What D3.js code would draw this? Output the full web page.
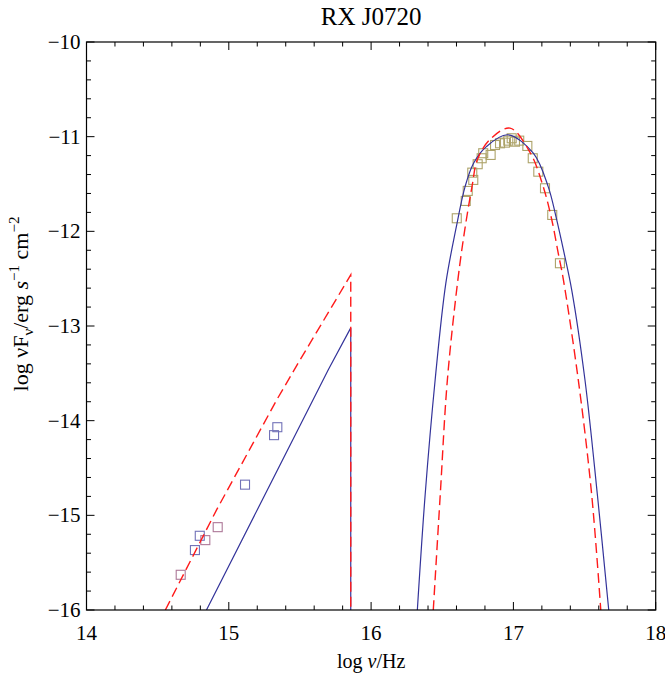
<!DOCTYPE html>
<html>
<head>
<meta charset="utf-8">
<script src="https://cdn.jsdelivr.net/npm/d3@7"></script>
<style>
  body { margin: 0; background: #fff; }
  svg { display: block; }
  text { font-family: "Liberation Serif", "DejaVu Serif", serif; fill: #000; }
</style>
</head>
<body>
<svg id="chart" width="665" height="682"></svg>
<script>
// ---- Data (log nu [Hz], log nuFnu [erg s^-1 cm^-2]) ----
const xTicks = [14, 15, 16, 17, 18];
const yTicks = [-10, -11, -12, -13, -14, -15, -16];

// Model 1 (solid blue): optical/UV power-law part
const blueLowX = [14.843, 15.70, 15.857, 15.857];
const blueLowY = [-16, -13.46, -13.02, -16];
// Model 1 (solid blue): X-ray bump
const blueBumpX = [16.325, 16.38, 16.45, 16.525, 16.597, 16.66, 16.72, 16.81, 16.96, 17.14, 17.245, 17.30, 17.355, 17.41, 17.503, 17.59, 17.67];
const blueBumpY = [-16, -14.78, -13.57, -12.55, -11.967, -11.53, -11.28, -11.105, -10.98, -11.175, -11.53, -11.85, -12.22, -12.62, -13.57, -14.78, -16];

// Model 2 (dashed red): optical/UV part
const redLowX = [14.554, 14.915, 15.337, 15.50, 15.857, 15.857];
const redLowY = [-16, -14.94, -13.78, -13.36, -12.46, -16];
// Model 2 (dashed red): X-ray bump
const redBumpX = [16.437, 16.486, 16.536, 16.61, 16.66, 16.71, 16.746, 16.835, 16.976, 17.12, 17.21, 17.27, 17.315, 17.35, 17.456, 17.55, 17.614];
const redBumpY = [-16, -14.78, -13.57, -12.51, -11.967, -11.52, -11.246, -11.03, -10.91, -11.175, -11.53, -11.88, -12.23, -12.5, -13.57, -14.78, -16];

// Observed data: optical/UV (blue squares)
const optBlueX = [15.341, 15.318, 15.114, 14.796, 14.762];
const optBlueY = [-14.069, -14.153, -14.676, -15.216, -15.367];
// Observed data: optical (pink squares)
const optPinkX = [14.922, 14.835, 14.662];
const optPinkY = [-15.125, -15.262, -15.628];
// Observed data: X-ray (olive squares)
const xrayX = [16.602, 16.665, 16.679, 16.718, 16.711, 16.749, 16.777, 16.788, 16.840, 16.871, 16.906, 16.941, 16.964, 16.988, 17.011, 17.041, 17.098, 17.136, 17.175, 17.222, 17.273, 17.327];
const xrayY = [-11.862, -11.679, -11.573, -11.457, -11.380, -11.291, -11.228, -11.175, -11.193, -11.088, -11.070, -11.063, -11.042, -11.017, -11.053, -11.042, -11.098, -11.228, -11.370, -11.545, -11.827, -12.337];

// ---- Layout ----
const svg = d3.select("#chart");
const L = 86.5, R = 655.7, T = 42, B = 610;
const x = d3.scaleLinear().domain([14, 18]).range([L, R]);
const y = d3.scaleLinear().domain([-16, -10]).range([B, T]);

const zip = (xs, ys) => xs.map((v, i) => [v, ys[i]]);

svg.append("defs").append("clipPath").attr("id", "clip")
  .append("rect").attr("x", L).attr("y", T).attr("width", R - L).attr("height", B - T);

const plot = svg.append("g").attr("clip-path", "url(#clip)");

// squares
function squares(xs, ys, color) {
  plot.append("g").selectAll("rect").data(zip(xs, ys)).join("rect")
    .attr("x", d => x(d[0]) - 4.5).attr("y", d => y(d[1]) - 4.5)
    .attr("width", 9).attr("height", 9)
    .attr("fill", "none").attr("stroke", color).attr("stroke-width", 1.1);
}
squares(xrayX, xrayY, "#ada36a");
squares(optBlueX, optBlueY, "#7272b8");
squares(optPinkX, optPinkY, "#ad7898");

const straight = d3.line().x(d => x(d[0])).y(d => y(d[1]));
const smooth = d3.line().x(d => x(d[0])).y(d => y(d[1])).curve(d3.curveCatmullRom.alpha(0.5));

const blue = "#33339a", red = "#ff1a1a";
plot.append("path").attr("d", straight(zip(blueLowX, blueLowY)))
  .attr("fill", "none").attr("stroke", blue).attr("stroke-width", 1.2);
plot.append("path").attr("d", smooth(zip(blueBumpX, blueBumpY)))
  .attr("fill", "none").attr("stroke", blue).attr("stroke-width", 1.2);
plot.append("path").attr("d", straight(zip(redLowX, redLowY)))
  .attr("fill", "none").attr("stroke", red).attr("stroke-width", 1.4).attr("stroke-dasharray", "10,5");
plot.append("path").attr("d", smooth(zip(redBumpX, redBumpY)))
  .attr("fill", "none").attr("stroke", red).attr("stroke-width", 1.4).attr("stroke-dasharray", "10,5");

// ---- Axes (ticks inward, on all four sides) ----
const xMinor = d3.range(14, 18.0001, 0.2).map(v => +v.toFixed(2));
const yMinor = d3.range(-16, -9.9999, 0.2).map(v => +v.toFixed(2));
const MAJ = 8, MIN = 4.5;
const isMajor = v => Math.abs(v - Math.round(v)) < 1e-6;

const axes = svg.append("g").attr("stroke", "#000").attr("stroke-width", 1);
xMinor.forEach(v => {
  const len = isMajor(v) ? MAJ : MIN;
  axes.append("line").attr("x1", x(v)).attr("x2", x(v)).attr("y1", B).attr("y2", B - len);
  axes.append("line").attr("x1", x(v)).attr("x2", x(v)).attr("y1", T).attr("y2", T + len);
});
yMinor.forEach(v => {
  const len = isMajor(v) ? MAJ : MIN;
  axes.append("line").attr("y1", y(v)).attr("y2", y(v)).attr("x1", L).attr("x2", L + len);
  axes.append("line").attr("y1", y(v)).attr("y2", y(v)).attr("x1", R).attr("x2", R - len);
});
svg.append("rect").attr("x", L).attr("y", T).attr("width", R - L).attr("height", B - T)
  .attr("fill", "none").attr("stroke", "#000").attr("stroke-width", 1.2);

// tick labels
const fmt = v => (v < 0 ? "\u2212" + Math.abs(v) : String(v));
svg.append("g").selectAll("text").data(xTicks).join("text")
  .attr("x", d => x(d)).attr("y", B + 30).attr("text-anchor", "middle")
  .attr("font-size", 21).text(fmt);
svg.append("g").selectAll("text").data(yTicks).join("text")
  .attr("x", L - 6).attr("y", d => y(d) + 7).attr("text-anchor", "end")
  .attr("font-size", 21).text(fmt);

// title
svg.append("text").attr("x", (L + R) / 2).attr("y", 25).attr("text-anchor", "middle")
  .attr("font-size", 25).text("RX J0720");

// x label
const xl = svg.append("text").attr("x", (L + R) / 2).attr("y", 668).attr("text-anchor", "middle")
  .attr("font-size", 20);
xl.append("tspan").text("log ");
xl.append("tspan").attr("font-style", "italic").text("\u03bd");
xl.append("tspan").text("/Hz");

// y label
const yl = svg.append("text").attr("transform", `translate(28, 304) rotate(-90)`)
  .attr("text-anchor", "middle").attr("font-size", 22);
yl.append("tspan").text("log \u03bdF");
yl.append("tspan").attr("font-size", 15).attr("dy", 5).text("\u03bd");
yl.append("tspan").attr("dy", -5).text("/erg ");
yl.append("tspan").attr("font-style", "italic").text("s");
yl.append("tspan").attr("font-size", 15).attr("dy", -9).text("\u22121");
yl.append("tspan").attr("dy", 9).text(" cm");
yl.append("tspan").attr("font-size", 15).attr("dy", -9).text("\u22122");
</script>
</body>
</html>
